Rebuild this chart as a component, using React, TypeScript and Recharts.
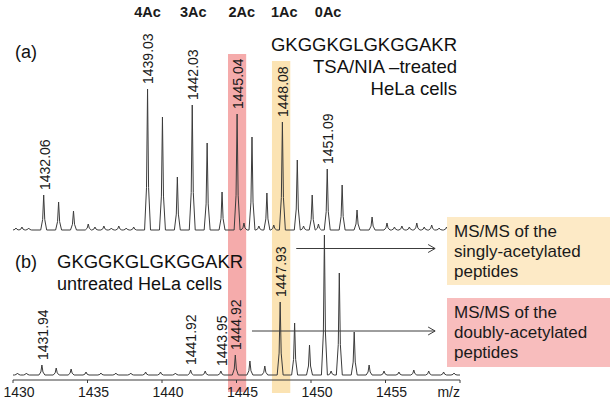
import React from 'react';
import {
  ComposedChart, Line, Scatter, XAxis, YAxis, ReferenceArea, ReferenceLine,
} from 'recharts';

// (a) TSA/NIA-treated HeLa cells: peak m/z and apex height
const massA = [
  1430.2, 1430.6, 1431.05, 1432.06, 1433.06, 1434.06, 1435.05, 1435.5, 1436.1, 1436.6,
  1437.1, 1437.6, 1438.1, 1439.03, 1440.03, 1441.03, 1442.03, 1443.03, 1444.03, 1445.04,
  1445.5, 1446.04, 1446.5, 1447.04, 1447.5, 1448.08, 1449.08, 1449.5, 1450.08, 1450.5,
  1451.09, 1452.09, 1453.09, 1454.1, 1455.1, 1455.6, 1456.1, 1456.6, 1457.1, 1457.6,
  1458.1, 1458.6, 1459.1, 1459.6,
];
const intA = [
  2, 3, 2, 35, 28, 19, 6, 3, 4, 2,
  4, 2, 3, 141, 113, 53, 125, 87, 38, 116,
  7, 93, 4, 37, 5, 108, 70, 4, 35, 6,
  61, 45, 20, 13, 7, 3, 4, 3, 7, 3,
  5, 2, 3, 2,
];
const labelsA = ['1432.06', '1439.03', '1442.03', '1445.04', '1448.08', '1451.09'];

// (b) untreated HeLa cells
const massB = [
  1430.3, 1430.9, 1431.94, 1432.9, 1433.9, 1434.9, 1435.9, 1436.9, 1437.9, 1438.9,
  1439.9, 1440.9, 1441.92, 1442.9, 1443.95, 1444.92, 1445.9, 1446.9, 1447.93, 1448.9,
  1449.9, 1450.9, 1451.35, 1451.9, 1452.9, 1453.9, 1454.9, 1455.9, 1456.9, 1457.9,
  1458.9, 1459.6,
];
const intB = [
  2, 2, 10, 7, 6, 3, 2, 2, 2, 3,
  3, 2, 5, 4, 4, 20, 14, 9, 73, 52,
  30, 140, 4, 102, 43, 10, 4, 3, 5, 4,
  3, 2,
];
const labelsB = ['1431.94', '1441.92', '1443.95', '1444.92', '1447.93'];

const acTags = ['4Ac', '3Ac', '2Ac', '1Ac', '0Ac'];
const acMass = [1439.03, 1442.1, 1445.35, 1448.2, 1451.15];

const TICKS = [1430, 1435, 1440, 1445, 1450, 1455, 1460];

const FONT = '"Liberation Sans", Arial, sans-serif';
const INK = '#3c3c3c';
const PINK = '#f5abab';
const PINK_BOX = '#f8bdbd';
const YEL = '#fbe3b3';
const YEL_BOX = '#fdeac6';

const BASE_A = 150;
const BASE_B = 5;

function trace(mz: number[], h: number[], base: number) {
  const pts: { x: number; y: number }[] = [{ x: 1430, y: base }];
  mz.forEach((m, i) => {
    pts.push(
      { x: m - 0.2, y: base },
      { x: m - 0.07, y: base + h[i] * 0.3 },
      { x: m, y: base + h[i] },
      { x: m + 0.07, y: base + h[i] * 0.3 },
      { x: m + 0.2, y: base },
    );
  });
  pts.push({ x: 1460, y: base });
  return pts;
}

function peakLabels(labels: string[], mz: number[], h: number[], base: number) {
  return labels.map(l => {
    const i = mz.indexOf(parseFloat(l));
    return { x: mz[i], y: base + h[i], label: l };
  });
}

const dataA = trace(massA, intA, BASE_A);
const dataB = trace(massB, intB, BASE_B);
const lblA = peakLabels(labelsA, massA, intA, BASE_A);
const lblB = peakLabels(labelsB, massB, intB, BASE_B);
const acData = acTags.map((t, i) => ({ x: acMass[i], y: 368, label: t }));

const PeakLabel = (p: any) => {
  const ax = p.cx + 1;
  const ay = p.cy - 5;
  return (
    <text x={ax} y={ay} dy="0.35em" transform={`rotate(-90 ${ax} ${ay})`}
      fontSize={14} fontFamily={FONT} fill="#1a1a1a">{p.payload.label}</text>
  );
};

const AcLabel = (p: any) => (
  <text x={p.cx} y={p.cy} dy="0.35em" textAnchor="middle" fontSize={14.5}
    fontWeight="bold" fontFamily={FONT} fill="#1a1a1a">{p.payload.label}</text>
);

const AxisTick = (p: any) => {
  const { x, y, payload } = p;
  if (payload.value === 1460) {
    return <text x={x} y={y} dy="0.71em" textAnchor="end" fontSize={14} fontFamily={FONT} fill="#1a1a1a">m/z</text>;
  }
  return <text x={x + 6} y={y} dy="0.71em" textAnchor="middle" fontSize={14} fontFamily={FONT} fill="#1a1a1a">{payload.value}</text>;
};

const Arrow = (p: any) => {
  const { x1, y1, x2, y2 } = p;
  return (
    <g>
      <line x1={x1} y1={y1} x2={x2} y2={y2} stroke={INK} strokeWidth={1} />
      <polyline points={`${x2 - 7},${y2 - 4} ${x2},${y2} ${x2 - 7},${y2 + 4}`} fill="none" stroke={INK} strokeWidth={1} />
    </g>
  );
};

const txt: React.CSSProperties = {
  position: 'absolute', fontFamily: FONT, fontSize: 18.5, lineHeight: '22px', color: '#111', whiteSpace: 'nowrap',
};
const boxTxt: React.CSSProperties = {
  position: 'absolute', left: 447, width: 163, fontFamily: FONT, fontSize: 17, lineHeight: '20px',
  color: '#1a1a1a', paddingLeft: 7, boxSizing: 'border-box',
};

export default function App() {
  return (
    <div style={{ position: 'relative', width: 613, height: 405, background: '#fff', overflow: 'hidden' }}>
      <style>{'body{margin:0}'}</style>
      <ComposedChart width={613} height={405} margin={{ top: 0, right: 153, bottom: 0, left: 13 }}>
        <XAxis type="number" dataKey="x" domain={[1430, 1460]} ticks={TICKS} interval={0} allowDataOverflow
          height={25} tickSize={3} tickMargin={4} tick={<AxisTick />}
          stroke={INK} tickLine={{ stroke: INK }} />
        <YAxis type="number" dataKey="y" domain={[0, 380]} hide allowDataOverflow />
        <ReferenceArea x1={1444.43} x2={1445.65} y1={-12} y2={326} fill={PINK} fillOpacity={1} stroke="none" ifOverflow="visible" />
        <ReferenceArea x1={1447.38} x2={1448.61} y1={-13} y2={319} fill={YEL} fillOpacity={1} stroke="none" ifOverflow="visible" />
        <Line data={dataA} dataKey="y" type="linear" stroke={INK} strokeWidth={1} dot={false} isAnimationActive={false} />
        <Line data={dataB} dataKey="y" type="linear" stroke={INK} strokeWidth={1} dot={false} isAnimationActive={false} />
        <ReferenceLine segment={[{ x: 1449.01, y: 131.5 }, { x: 1458.33, y: 131.5 }]} shape={<Arrow />} ifOverflow="visible" />
        <ReferenceLine segment={[{ x: 1446.04, y: 49 }, { x: 1458.33, y: 49 }]} shape={<Arrow />} ifOverflow="visible" />
        <Scatter data={lblA} shape={<PeakLabel />} isAnimationActive={false} />
        <Scatter data={lblB} shape={<PeakLabel />} isAnimationActive={false} />
        <Scatter data={acData} shape={<AcLabel />} isAnimationActive={false} />
      </ComposedChart>

      <div style={{ ...txt, left: 15, top: 41, fontSize: 18 }}>(a)</div>
      <div style={{ ...txt, right: 613 - 457, top: 34, textAlign: 'right' }}>
        GKGGKGLGKGGAKR<br />TSA/NIA –treated<br />HeLa cells
      </div>
      <div style={{ ...txt, left: 15, top: 251, fontSize: 18 }}>(b)</div>
      <div style={{ ...txt, left: 57, top: 251 }}>
        GKGGKGLGKGGAKR<br /><span style={{ fontSize: 18 }}>untreated HeLa cells</span>
      </div>

      <div style={{ ...boxTxt, top: 217, height: 68, paddingTop: 5, background: YEL_BOX }}>
        MS/MS of the<br />singly-acetylated<br />peptides
      </div>
      <div style={{ ...boxTxt, top: 298, height: 69, paddingTop: 5, background: PINK_BOX }}>
        MS/MS of the<br />doubly-acetylated<br />peptides
      </div>
    </div>
  );
}
